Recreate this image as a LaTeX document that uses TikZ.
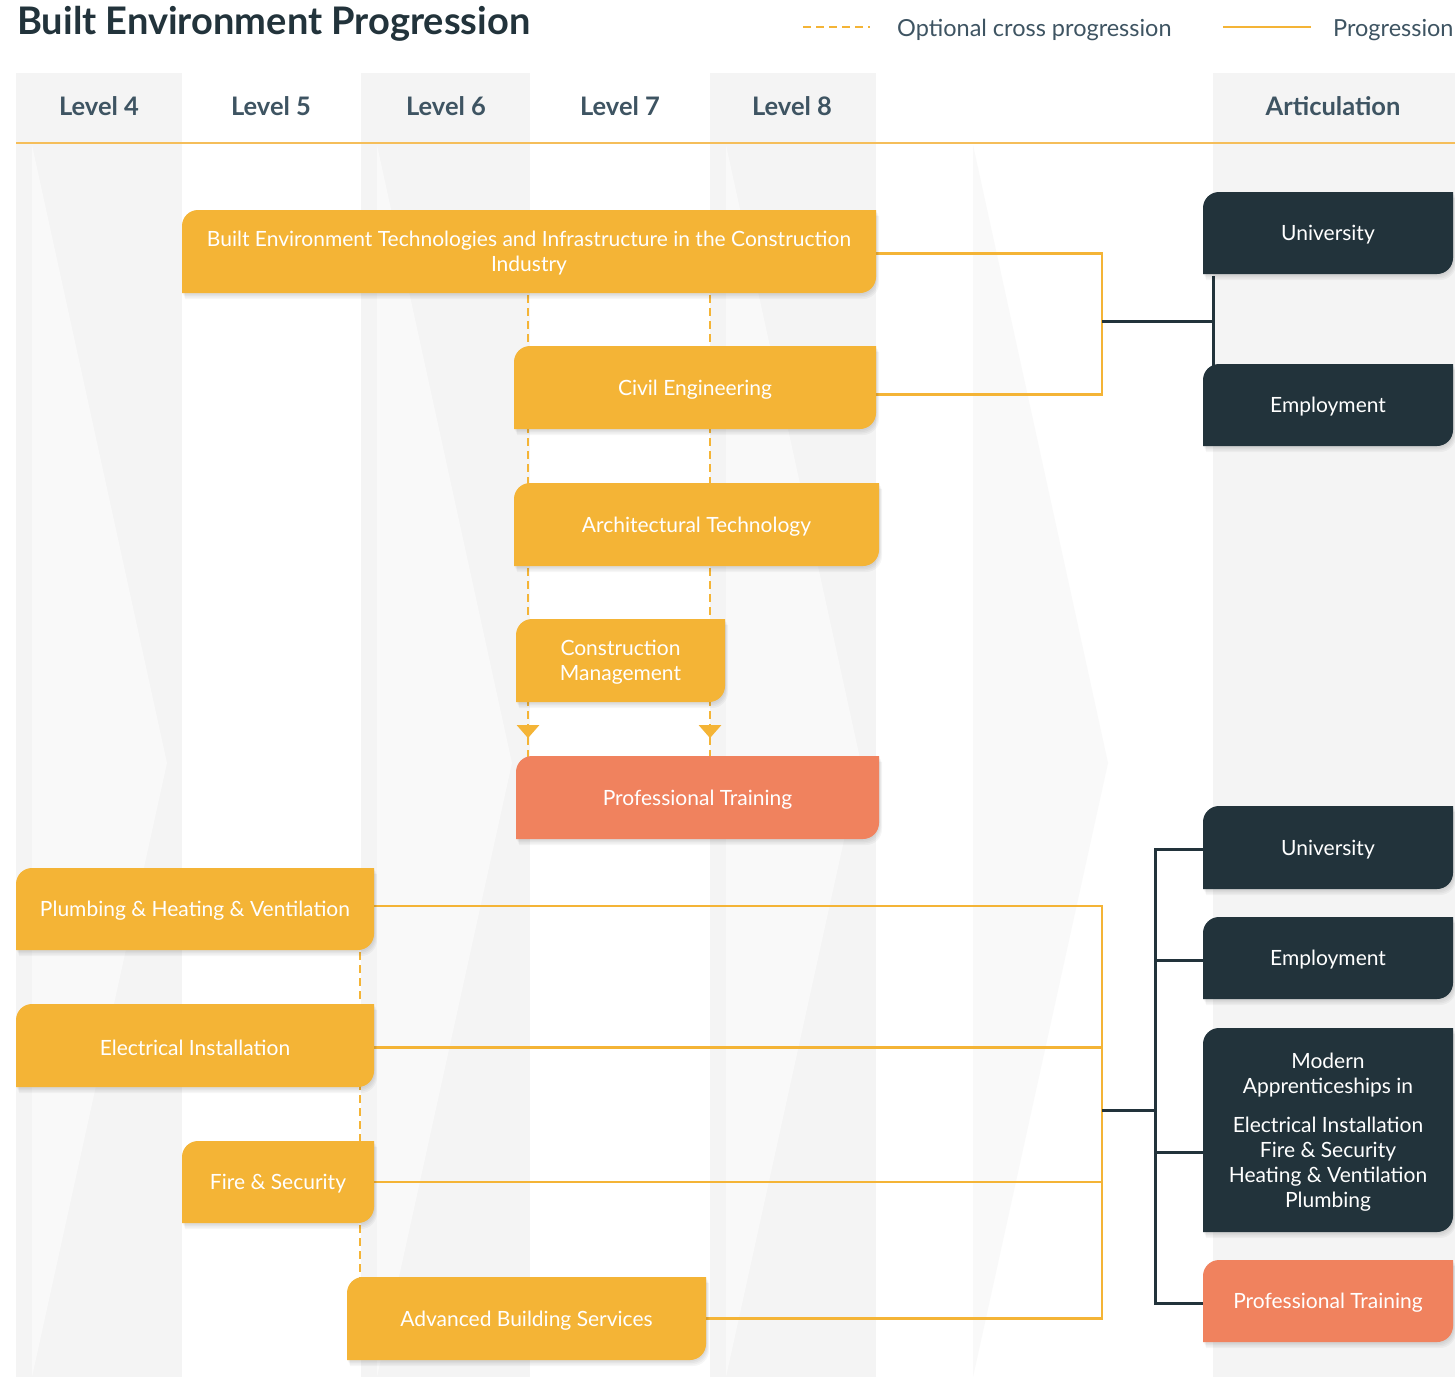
\documentclass[tikz,border=0pt]{standalone}
\usepackage{fontspec}
\setmainfont{Lato}
\usetikzlibrary{arrows.meta,decorations.markings}

\definecolor{boxorange}{HTML}{F4B436}
\definecolor{boxsalmon}{HTML}{F0825E}
\definecolor{boxdark}{HTML}{22333B}
\definecolor{headgrey}{HTML}{3E5462}
\definecolor{colgrey}{HTML}{F4F4F4}
\definecolor{chevgrey}{HTML}{F9F9F9}
\definecolor{ruleorange}{HTML}{F5BE5A}

\pgfdeclarelayer{bg}
\pgfdeclarelayer{lines}
\pgfsetlayers{bg,lines,main}

\tikzset{
    boxtext/.style={text=white, font=\fontsize{21}{25}\selectfont, align=center, inner sep=0pt, outer sep=0pt},
    prog/.style={boxorange, line width=2.6pt},
    cross/.style={boxorange, line width=2.8pt, dash pattern=on 8pt off 5pt},
    artic/.style={boxdark, line width=3pt},
    levelhead/.style={headgrey, font=\bfseries\fontsize{25.5}{30}\selectfont, anchor=base},
    legendtext/.style={headgrey, font=\fontsize{23.5}{28}\selectfont, anchor=base west, inner sep=0pt},
    crossarrow/.style={postaction={decorate, decoration={markings, mark=at position 0.957 with {\arrow{Triangle[width=22pt,length=13pt]}}}}}
}

% name, x1, y1, x2, y2, colour, text -- rounded top left and bottom right
\newcommand{\progbox}[7]{%
    \foreach \s in {1.5,3,4.5,6}
        \fill[black, opacity=0.035, shift={(0.5*\s,\s)}] (#2,#5) -- (#2,#3+16) arc[start angle=180,end angle=270,radius=16] -- (#4,#3) -- (#4,#5-16) arc[start angle=0,end angle=90,radius=16] -- cycle;
    \fill[#6] (#2,#5) -- (#2,#3+16) arc[start angle=180,end angle=270,radius=16] -- (#4,#3) -- (#4,#5-16) arc[start angle=0,end angle=90,radius=16] -- cycle;
    \node[boxtext, minimum width={(#4-#2)*1pt}, minimum height={(#5-#3)*1pt}] (#1) at ({(#2+#4)/2},{(#3+#5)/2+2}) {#7};
}

\begin{document}
\begin{tikzpicture}[x=1pt, y=-1pt]
    \useasboundingbox (0,0) rectangle (1455,1377);

    % columns
    \begin{pgfonlayer}{bg}
        \fill[white] (0,0) rectangle (1455,1377);
        \fill[colgrey] (16,73) rectangle (182,1377);
        \fill[colgrey] (361,73) rectangle (530,1377);
        \fill[colgrey] (710,73) rectangle (876,1377);
        \fill[colgrey] (1213,73) rectangle (1455,1377);
        \foreach \x in {32,377,726,973}
            \fill[chevgrey] (\x,145) -- (\x+135,763) -- (\x,1377) -- cycle;
        \draw[ruleorange, line width=1.3pt] (16,143) -- (1455,143);
    \end{pgfonlayer}

    \node[anchor=base west, text=boxdark, font=\bfseries\fontsize{38}{44}\selectfont, inner sep=0pt] (title) at (17,34) {Built Environment Progression};

    % legend
    \coordinate (optA) at (803,27);
    \coordinate (optB) at (870,27);
    \draw[cross] (optA) -- (optB);
    \node[legendtext] (optlabel) at (897,36) {Optional cross progression};
    \coordinate (progA) at (1223,27);
    \coordinate (progB) at (1311,27);
    \draw[prog] (progA) -- (progB);
    \node[legendtext] (proglabel) at (1333,36) {Progression};

    \foreach \x/\n in {99/4, 271/5, 446/6, 620/7, 792/8}
        \node[levelhead] (lev\n) at (\x,115) {Level \n};
    \node[levelhead] (artic) at (1333,115) {Articulation};

    \progbox{bet}{182}{210}{876}{293}{boxorange}{Built Environment Technologies and Infrastructure in the Construction\\Industry}
    \progbox{civil}{514}{346}{876}{429}{boxorange}{Civil Engineering}
    \progbox{arch}{514}{483}{879}{566}{boxorange}{Architectural Technology}
    \progbox{cm}{516}{619}{725}{702}{boxorange}{Construction\\Management}
    \progbox{pt}{516}{756}{879}{839}{boxsalmon}{Professional Training}

    \progbox{plumb}{16}{868}{374}{950}{boxorange}{Plumbing \& Heating \& Ventilation}
    \progbox{elec}{16}{1004}{374}{1087}{boxorange}{Electrical Installation}
    \progbox{fire}{182}{1141}{374}{1223}{boxorange}{Fire \& Security}
    \progbox{abs}{347}{1277}{706}{1360}{boxorange}{Advanced Building Services}

    \progbox{uniA}{1203}{192}{1453}{274}{boxdark}{University}
    \progbox{empA}{1203}{364}{1453}{446}{boxdark}{Employment}
    \progbox{uniB}{1203}{806}{1453}{889}{boxdark}{University}
    \progbox{empB}{1203}{917}{1453}{999}{boxdark}{Employment}
    \progbox{ma}{1203}{1028}{1453}{1232}{boxdark}{Modern\\Apprenticeships in\\[14pt]Electrical Installation\\Fire \& Security\\Heating \& Ventilation\\Plumbing}
    \progbox{ptB}{1203}{1260}{1453}{1342}{boxsalmon}{Professional Training}

    \coordinate (jA) at (1102,321);
    \coordinate (kA) at (1213,321);
    \coordinate (jB) at (1102,1110);
    \coordinate (kB) at (1155,1110);

    \begin{pgfonlayer}{lines}
        % cross progression
        \draw[cross, crossarrow] ([xshift=-1pt]bet.south) -- ([xshift=12pt]pt.north west);
        \draw[cross, crossarrow] ([xshift=181pt]bet.south) -- ([xshift=194pt]pt.north west);
        \draw[cross] ([xshift=-14pt]plumb.south east) -- ([xshift=13pt]abs.north west);

        % progression
        \draw[prog] (bet.east) -| (jA);
        \draw[prog] ([yshift=-5pt]civil.east) -| (jA);
        \draw[prog] ([yshift=5pt]plumb.east) -| (jB);
        \draw[prog] (elec.east) -| (jB);
        \draw[prog] ([yshift=2pt]fire.east) -| (jB);
        \draw[prog] ([yshift=2pt]abs.east) -| (jB);

        % articulation
        \draw[artic] (jA) -- (kA);
        \draw[artic] ([xshift=10pt]uniA.south west) -- ([xshift=10pt]empA.north west);
        \draw[artic] (jB) -- (kB);
        \draw[artic] (uniB.west) -| (kB);
        \draw[artic] (empB.west) -| (kB);
        \draw[artic] ([yshift=-20pt]ma.west) -| (kB);
        \draw[artic] (ptB.west) -| (kB);
    \end{pgfonlayer}
\end{tikzpicture}
\end{document}
